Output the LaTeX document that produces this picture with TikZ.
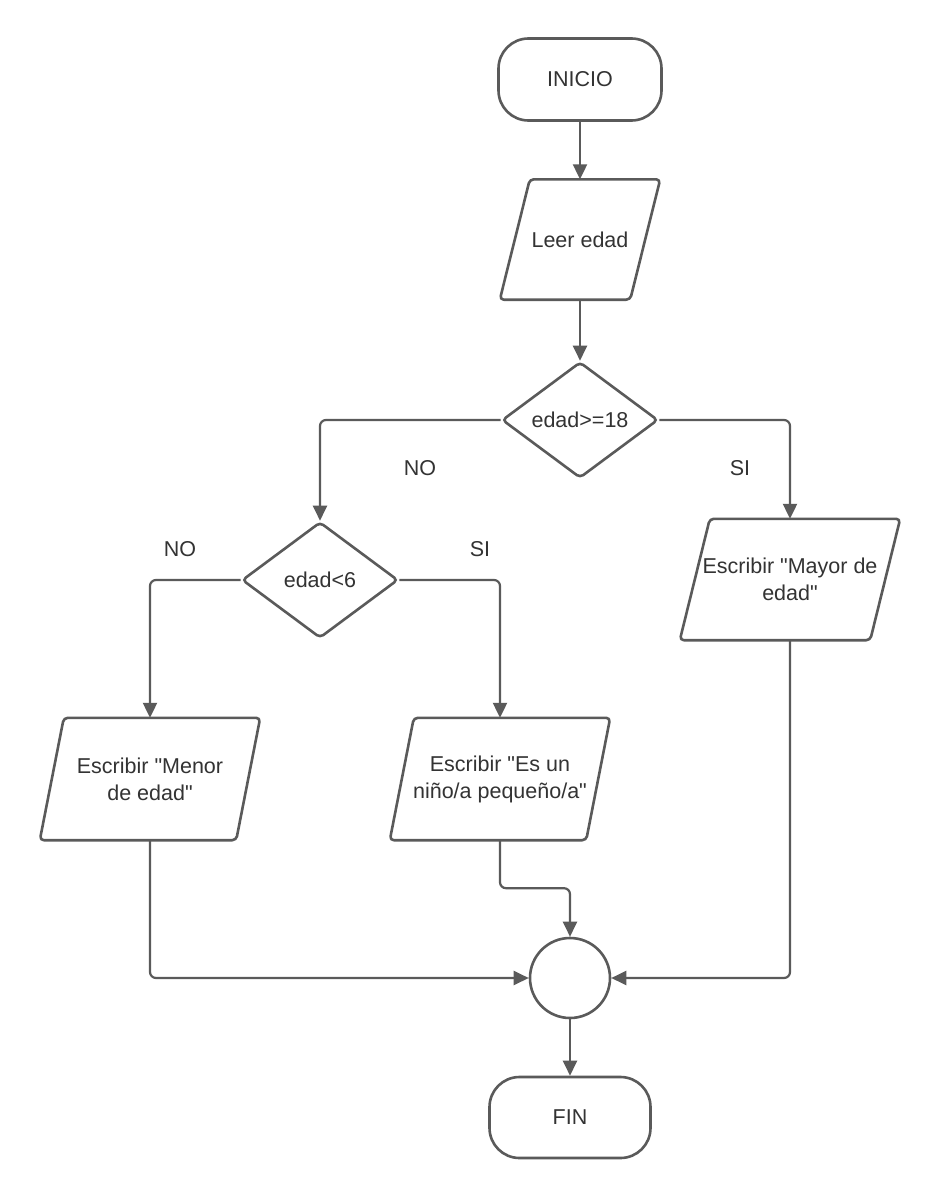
\documentclass[tikz,border=0pt]{standalone}
\usepackage{fontspec}
\setmainfont{Liberation Sans}[Ligatures=TeXOff]
\usetikzlibrary{shapes.geometric,arrows.meta,calc}
\definecolor{ln}{HTML}{5A5A5A}
\definecolor{tx}{HTML}{333333}
\newcommand\paraout[2]{\draw[outl] (#1.south west) -- ([xshift=#2]#1.north west) -- (#1.north east) -- ([xshift=-#2]#1.south east) -- cycle;}
\begin{document}
\begin{tikzpicture}[x=1pt,y=-1pt,
  every node/.style={text=tx,font=\fontsize{21.5}{27}\selectfont,align=center},
  term/.style={draw=ln,line width=2.6pt,rectangle,rounded corners=30pt,minimum width=163pt,minimum height=82pt,inner sep=0pt},
  iobox/.style={rectangle,inner sep=0pt,minimum height=120pt},
  outl/.style={draw=ln,line width=2.6pt,rounded corners=4pt,line join=round},
  decis/.style={draw=ln,line width=2.6pt,diamond,aspect=1.35,minimum width=156pt,minimum height=116pt,inner sep=0pt,rounded corners=4pt},
  joinc/.style={draw=ln,line width=2.6pt,circle,minimum size=80pt,inner sep=0pt},
  arr/.style={draw=ln,line width=2.2pt,rounded corners=6pt,-{Triangle[length=15pt,width=14pt]}},
  lab/.style={inner sep=0pt}]
\useasboundingbox (0,0) rectangle (940,1199);
\fill[white] (0,0) rectangle (940,1199);

\node[term] (ini) at (580,79.5) {INICIO};
\node[iobox,minimum width=160pt] (leer) at (580,239.5) {Leer edad};
\paraout{leer}{30}
\node[decis] (d1) at (580,420) {edad>=18};
\node[decis] (d2) at (320,580) {edad<6};
\node[iobox,minimum width=220pt,minimum height=121pt] (mayor) at (790,579.5) {Escribir "Mayor de\\edad"};
\paraout{mayor}{30}
\node[iobox,minimum width=220pt,minimum height=122pt] (menor) at (150,779) {Escribir "Menor\\de edad"};
\paraout{menor}{24}
\node[iobox,minimum width=220pt,minimum height=122pt] (nino) at (500,779) {Escribir "Es un\\niño/a pequeño/a"};
\paraout{nino}{24}
\node[joinc] (c) at (570,978) {};
\node[term,minimum width=161pt,minimum height=81pt] (fin) at (570,1117.5) {FIN};

\node[lab] (no1) at (420,468) {NO};
\node[lab] (si1) at (740,468) {SI};
\node[lab] (no2) at (180,549) {NO};
\node[lab] (si2) at (480,549) {SI};

\draw[arr] (ini.south) -- (leer.north);
\draw[arr] (leer.south) -- (d1.north);
\draw[arr] (d1.west) -| (d2.north);
\draw[arr] (d1.east) -| (mayor.north);
\draw[arr] (d2.west) -| (menor.north);
\draw[arr] (d2.east) -| (nino.north);
\draw[arr] (menor.south) |- (c.west);
\draw[arr] (mayor.south) |- (c.east);
\coordinate (k) at ($(nino.south)+(0,48)$);
\draw[arr] (nino.south) -- (k) -| (c.north);
\draw[arr] (c.south) -- (fin.north);
\end{tikzpicture}
\end{document}
